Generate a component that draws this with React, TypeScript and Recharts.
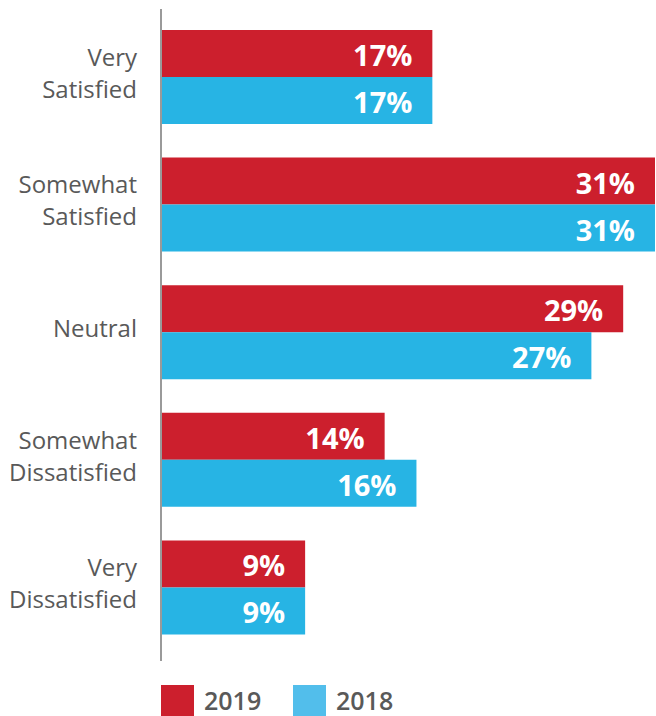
import React from 'react';
import { BarChart, Bar, XAxis, YAxis, LabelList } from 'recharts';

const categories = ['Very Satisfied', 'Somewhat Satisfied', 'Neutral', 'Somewhat Dissatisfied', 'Very Dissatisfied'];
const values2019 = [17, 31, 29, 14, 9];
const values2018 = [17, 31, 27, 16, 9];
const seriesNames = ['2019', '2018'];

const RED = '#CC1F2D';
const BLUE = '#27B4E4';
const LEGEND_BLUE = '#52BEEB';
const TEXT = '#595959';
const FONT = '"Open Sans", "Noto Sans", sans-serif';

const data = categories.map((name, i) => ({
  name,
  y2019: values2019[i],
  y2018: values2018[i],
}));

const CategoryTick = ({ x, y, payload }: any) => {
  const words = String(payload.value).split(' ');
  const lineHeight = 32;
  const startY = y - 5 - ((words.length - 1) * lineHeight) / 2;
  return (
    <text
      x={x}
      y={startY}
      textAnchor="end"
      fill={TEXT}
      fontSize={24}
      fontFamily={FONT}
      dominantBaseline="central"
    >
      {words.map((w, i) => (
        <tspan key={i} x={x} dy={i === 0 ? 0 : lineHeight}>
          {w}
        </tspan>
      ))}
    </text>
  );
};

const ValueLabel = ({ x, y, width, height, value }: any) => (
  <text
    x={x + width - 20}
    y={y + height / 2 + 1}
    textAnchor="end"
    dominantBaseline="central"
    fill="#ffffff"
    fontSize={29}
    fontWeight={700}
    fontFamily={FONT}
  >
    {`${value}%`}
  </text>
);

const LegendBox = () => {
  const colors = [RED, LEGEND_BLUE];
  return (
    <div style={{ position: 'absolute', left: 161, top: 685, display: 'flex', alignItems: 'center' }}>
      {seriesNames.map((label, i) => (
        <div key={label} style={{ display: 'flex', alignItems: 'center', width: 132 }}>
          <div style={{ width: 33, height: 31, background: colors[i] }} />
          <span
            style={{
              marginLeft: 10,
              fontFamily: FONT,
              fontSize: 25,
              fontWeight: 600,
              color: TEXT,
              lineHeight: '31px',
            }}
          >
            {label}
          </span>
        </div>
      ))}
    </div>
  );
};

export default function App() {
  return (
    <div style={{ position: 'absolute', left: 0, top: 0, width: 656, height: 716, background: '#fff' }}>
      <BarChart
        width={656}
        height={716}
        data={data}
        layout="vertical"
        margin={{ top: 9, right: 1, left: 0, bottom: 55 }}
        barGap={0}
        barSize={47}
      >
        <XAxis type="number" domain={[0, 31]} hide />
        <YAxis
          type="category"
          dataKey="name"
          width={162}
          padding={{ top: 4, bottom: 10 }}
          axisLine={{ stroke: '#9A9A9A', strokeWidth: 2, transform: 'translate(-1,0)' }}
          tickLine={false}
          tickSize={0}
          tickMargin={25}
          tick={<CategoryTick />}
          interval={0}
        />
        <Bar dataKey="y2019" name={seriesNames[0]} fill={RED} isAnimationActive={false}>
          <LabelList dataKey="y2019" content={<ValueLabel />} />
        </Bar>
        <Bar dataKey="y2018" name={seriesNames[1]} fill={BLUE} isAnimationActive={false}>
          <LabelList dataKey="y2018" content={<ValueLabel />} />
        </Bar>
      </BarChart>
      <LegendBox />
    </div>
  );
}
